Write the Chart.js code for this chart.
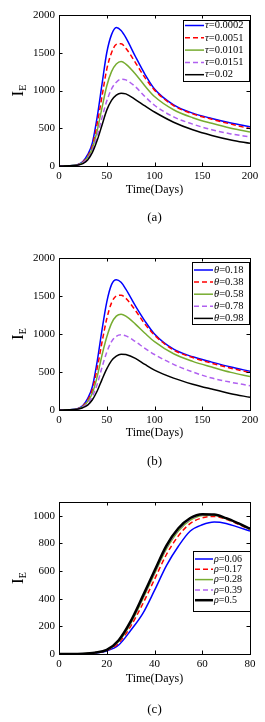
<!DOCTYPE html>
<html>
<head>
<meta charset="utf-8">
<script src="https://cdn.jsdelivr.net/npm/chart.js@4/dist/chart.umd.min.js"></script>
<style>
  body { margin: 0; background: #fff; width: 265px; height: 722px; position: relative; overflow: hidden; }
  .panel { position: absolute; left: 0; width: 265px; height: 240px; }
</style>
</head>
<body>
<div class="panel" style="top:0"><canvas id="chartA"></canvas></div>
<div class="panel" style="top:240px"><canvas id="chartB"></canvas></div>
<div class="panel" style="top:480px;height:242px"><canvas id="chartC"></canvas></div>
<script>
// time samples (days) (a) and (b)
const daysAB = [0, 10, 20, 25, 30, 35, 40, 45, 50, 55, 60, 65, 70, 80, 90, 100, 120, 140, 160, 180, 200]
const xTicksAB = [0, 50, 100, 150, 200]
const yTicksAB = [0, 500, 1000, 1500, 2000]

// (a) I_E for different tau
const tauLabels = ["τ=0.0002", "τ=0.0051", "τ=0.0101", "τ=0.0151", "τ=0.02"]
const ieTau1 = [0, 2, 20, 60, 150, 310, 650, 1080, 1500, 1740, 1835, 1795, 1700, 1450, 1215, 1020, 810, 700, 630, 570, 520]
const ieTau2 = [0, 2, 18, 52, 130, 270, 560, 920, 1280, 1500, 1610, 1620, 1560, 1370, 1170, 1005, 800, 690, 620, 555, 495]
const ieTau3 = [0, 2, 16, 45, 115, 235, 470, 770, 1060, 1250, 1350, 1385, 1350, 1220, 1060, 920, 745, 640, 565, 500, 450]
const ieTau4 = [0, 2, 14, 40, 100, 205, 400, 640, 860, 1020, 1110, 1150, 1140, 1050, 920, 805, 650, 555, 480, 425, 385]
const ieTau5 = [0, 2, 12, 32, 80, 180, 340, 540, 740, 870, 940, 965, 955, 880, 795, 715, 580, 480, 405, 345, 300]

// (b) I_E for different theta
const thetaLabels = ["θ=0.18", "θ=0.38", "θ=0.58", "θ=0.78", "θ=0.98"]
const ieTheta1 = [0, 2, 20, 60, 150, 310, 640, 1050, 1420, 1650, 1715, 1680, 1590, 1370, 1170, 1000, 800, 700, 630, 565, 510]
const ieTheta2 = [0, 2, 18, 52, 130, 270, 550, 890, 1200, 1410, 1500, 1510, 1470, 1310, 1130, 985, 790, 690, 615, 550, 493]
const ieTheta3 = [0, 2, 16, 45, 110, 225, 440, 720, 960, 1140, 1235, 1260, 1235, 1130, 1010, 900, 740, 640, 565, 495, 440]
const ieTheta4 = [0, 2, 14, 38, 90, 180, 340, 560, 760, 900, 970, 990, 975, 900, 810, 730, 600, 500, 420, 365, 320]
const ieTheta5 = [0, 2, 12, 30, 65, 135, 250, 400, 540, 650, 710, 735, 730, 680, 600, 525, 420, 340, 275, 215, 167]

// (c) I_E for different rho
const daysC = [0, 5, 10, 15, 20, 25, 30, 35, 40, 45, 50, 55, 60, 65, 70, 75, 80]
const xTicksC = [0, 20, 40, 60, 80]
const yTicksC = [0, 200, 400, 600, 800, 1000]
const rhoLabels = ["ρ=0.06", "ρ=0.17", "ρ=0.28", "ρ=0.39", "ρ=0.5"]
const ieRho1 = [0, 0, 2, 8, 22, 65, 170, 290, 460, 640, 780, 890, 935, 955, 945, 918, 890]
const ieRho2 = [0, 0, 2, 9, 26, 80, 200, 360, 540, 720, 855, 945, 985, 995, 975, 940, 900]
const ieRho3 = [0, 0, 2, 10, 28, 90, 220, 395, 580, 760, 890, 968, 1002, 1005, 980, 945, 903]
const ieRho4 = [0, 0, 2, 10, 29, 95, 228, 405, 592, 772, 900, 976, 1008, 1008, 982, 946, 905]
const ieRho5 = [0, 0, 2, 10, 30, 100, 236, 415, 602, 785, 910, 984, 1012, 1010, 983, 947, 907]

const colors = ["#0000ff", "#ff0000", "#77ac30", "#b060f0", "#000000"]
const dashes = [[], [5, 3], [], [5, 3], []]
const serif = '"Liberation Serif", "Times New Roman", serif'

function makeSets(days, series, labels, widths) {
  return series.map((vals, i) => ({
    label: labels[i],
    data: days.map((d, j) => ({ x: d, y: vals[j] })),
    borderColor: colors[i],
    borderDash: dashes[i],
    borderWidth: widths[i],
    pointRadius: 0,
    cubicInterpolationMode: "monotone",
    fill: false,
    order: series.length - i,
  }))
}

// box, inward ticks, titles, caption and boxed legend drawn MATLAB-style
const matlabFrame = {
  id: "matlabFrame",
  afterDraw(chart, args, opts) {
    const { ctx, chartArea: a, scales } = chart
    ctx.save()
    ctx.strokeStyle = "#000"
    ctx.lineWidth = 1
    ctx.strokeRect(a.left + 0.5, a.top + 0.5, a.right - a.left, a.bottom - a.top)
    const tl = 3.5
    ctx.beginPath()
    scales.x.ticks.forEach(t => {
      const px = Math.round(scales.x.getPixelForValue(t.value)) + 0.5
      ctx.moveTo(px, a.bottom); ctx.lineTo(px, a.bottom - tl)
      ctx.moveTo(px, a.top); ctx.lineTo(px, a.top + tl)
    })
    scales.y.ticks.forEach(t => {
      const py = Math.round(scales.y.getPixelForValue(t.value)) + 0.5
      ctx.moveTo(a.left, py); ctx.lineTo(a.left + tl, py)
      ctx.moveTo(a.right, py); ctx.lineTo(a.right - tl, py)
    })
    ctx.stroke()

    const cx = (a.left + a.right) / 2
    ctx.fillStyle = "#000"
    ctx.textAlign = "center"
    ctx.textBaseline = "middle"
    ctx.font = "12px " + serif
    ctx.fillText("Time(Days)", cx, a.bottom + opts.titleGap)
    ctx.font = "13px " + serif
    ctx.fillText(opts.caption, cx, a.bottom + opts.captionGap)

    // y title I_E
    ctx.save()
    ctx.translate(opts.yTitleX, (a.top + a.bottom) / 2)
    ctx.rotate(-Math.PI / 2)
    ctx.textAlign = "left"
    ctx.textBaseline = "alphabetic"
    ctx.font = "17px " + serif
    const wI = ctx.measureText("I").width
    ctx.font = "10px " + serif
    const wE = ctx.measureText("E").width
    const sx = -(wI + wE) / 2
    ctx.font = "17px " + serif
    ctx.fillText("I", sx, 5)
    ctx.font = "10px " + serif
    ctx.fillText("E", sx + wI, 8)
    ctx.restore()

    // legend
    const lg = opts.legend
    ctx.fillStyle = "#fff"
    ctx.fillRect(lg.x, lg.y, lg.w, lg.h)
    ctx.strokeStyle = "#000"
    ctx.lineWidth = 1
    ctx.strokeRect(lg.x + 0.5, lg.y + 0.5, lg.w, lg.h)
    ctx.textAlign = "left"
    ctx.textBaseline = "middle"
    chart.data.datasets.forEach((ds, i) => {
      const y = lg.row0 + i * lg.rowH
      ctx.strokeStyle = ds.borderColor
      ctx.lineWidth = ds.borderWidth
      ctx.setLineDash(ds.borderDash)
      ctx.beginPath()
      ctx.moveTo(lg.line0, y)
      ctx.lineTo(lg.line1, y)
      ctx.stroke()
      ctx.setLineDash([])
      ctx.fillStyle = "#000"
      ctx.font = "italic " + lg.font + "px " + serif
      const sym = ds.label[0]
      ctx.fillText(sym, lg.text, y)
      const ws = ctx.measureText(sym).width
      ctx.font = lg.font + "px " + serif
      ctx.fillText(ds.label.slice(1), lg.text + ws, y)
    })
    ctx.restore()
  },
}

function makeChart(id, cfg) {
  const tickFont = { family: serif, size: 11 }
  return new Chart(document.getElementById(id), {
    type: "line",
    data: { datasets: cfg.datasets },
    options: {
      responsive: true,
      maintainAspectRatio: false,
      animation: false,
      layout: { padding: { top: cfg.top, right: 15, left: 0, bottom: 0 } },
      scales: {
        x: {
          type: "linear",
          min: cfg.xTicks[0],
          max: cfg.xTicks[cfg.xTicks.length - 1],
          grid: { display: false, drawTicks: false, tickLength: 0 },
          border: { display: false },
          ticks: { color: "#000", font: tickFont, padding: 4, maxRotation: 0, callback: v => String(v) },
          afterBuildTicks: s => { s.ticks = cfg.xTicks.map(v => ({ value: v })) },
          afterFit: s => { s.height = cfg.canvasH - cfg.top - cfg.areaH },
        },
        y: {
          min: 0,
          max: cfg.yMax,
          grid: { display: false, drawTicks: false, tickLength: 0 },
          border: { display: false },
          ticks: { color: "#000", font: tickFont, padding: 4, callback: v => String(v) },
          afterBuildTicks: s => { s.ticks = cfg.yTicks.map(v => ({ value: v })) },
          afterFit: s => { s.width = 59 },
        },
      },
      plugins: {
        legend: { display: false },
        tooltip: { enabled: false },
        matlabFrame: cfg.frame,
      },
    },
    plugins: [matlabFrame],
  })
}

makeChart("chartA", {
  datasets: makeSets(daysAB, [ieTau1, ieTau2, ieTau3, ieTau4, ieTau5], tauLabels, [1.5, 1.5, 1.5, 1.5, 1.5]),
  xTicks: xTicksAB, yTicks: yTicksAB, yMax: 2000,
  canvasH: 240, top: 15, areaH: 151,
  frame: {
    titleGap: 24, captionGap: 52, caption: "(a)", yTitleX: 18,
    legend: { x: 183, y: 20, w: 66, h: 61, row0: 25.5, rowH: 12.3, line0: 185, line1: 204, text: 205, font: 10.5 },
  },
})

makeChart("chartB", {
  datasets: makeSets(daysAB, [ieTheta1, ieTheta2, ieTheta3, ieTheta4, ieTheta5], thetaLabels, [1.5, 1.5, 1.5, 1.5, 1.5]),
  xTicks: xTicksAB, yTicks: yTicksAB, yMax: 2000,
  canvasH: 240, top: 18, areaH: 152,
  frame: {
    titleGap: 23, captionGap: 52, caption: "(b)", yTitleX: 18,
    legend: { x: 192, y: 22, w: 57, h: 62, row0: 30, rowH: 12.1, line0: 194, line1: 213, text: 214, font: 10.5 },
  },
})

makeChart("chartC", {
  datasets: makeSets(daysC, [ieRho1, ieRho2, ieRho3, ieRho4, ieRho5], rhoLabels, [1.5, 1.5, 1.5, 1.5, 2.5]),
  xTicks: xTicksC, yTicks: yTicksC, yMax: 1100,
  canvasH: 242, top: 22, areaH: 152,
  frame: {
    titleGap: 25, captionGap: 56, caption: "(c)", yTitleX: 18,
    legend: { x: 193, y: 71, w: 57, h: 60, row0: 79, rowH: 10.3, line0: 195, line1: 213, text: 214, font: 10 },
  },
})
</script>
</body>
</html>
